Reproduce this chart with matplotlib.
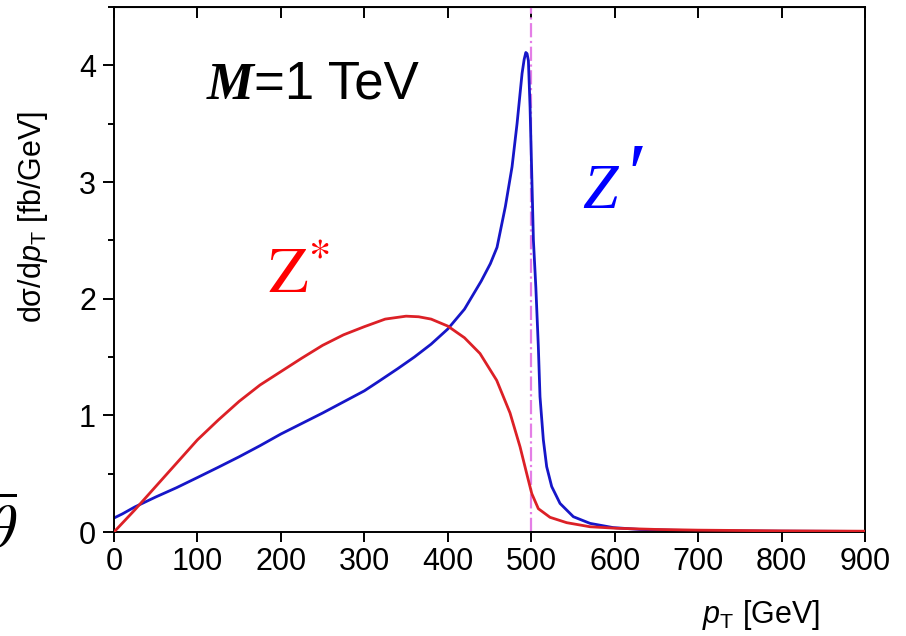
import numpy as np
import matplotlib
matplotlib.use("Agg")
import matplotlib.pyplot as plt
from matplotlib.ticker import MultipleLocator

plt.rcParams['font.family'] = ['Liberation Sans', 'DejaVu Sans']
plt.rcParams['mathtext.fontset'] = 'custom'
plt.rcParams['mathtext.rm'] = 'Liberation Sans'
plt.rcParams['mathtext.it'] = 'Liberation Sans:italic'

# Z' (blue)
pt_zp = [0, 10, 25, 50, 75, 100, 125, 150, 175, 200, 225, 250, 275, 300, 317, 340,
         360, 380, 400, 420, 440, 451, 459, 469, 477, 483, 489, 491.5, 493.5, 495,
         496.6, 498.6, 500.6, 502.6, 505.5, 508.5, 510.5, 514.5, 518.5, 524.5, 534.5,
         550.5, 570.5, 598, 630, 670, 720, 800, 900]
ds_zp = [0.12, 0.155, 0.215, 0.30, 0.38, 0.467, 0.555, 0.645, 0.74, 0.84, 0.93, 1.02,
         1.115, 1.21, 1.29, 1.40, 1.50, 1.61, 1.74, 1.91, 2.15, 2.30, 2.44, 2.79, 3.13,
         3.50, 3.93, 4.05, 4.11, 4.10, 4.04, 3.64, 3.07, 2.50, 2.10, 1.59, 1.16, 0.79,
         0.56, 0.39, 0.245, 0.131, 0.074, 0.038, 0.022, 0.015, 0.010, 0.007, 0.005]

# Z* (red)
pt_zs = [0, 25, 50, 75, 100, 125, 150, 175, 200, 225, 250, 275, 300, 325, 350, 365,
         380, 400, 420, 438.6, 458.6, 474.6, 486.6, 494.6, 500.6, 508.5, 522.5, 542.5,
         570.5, 602.5, 650, 700, 800, 900]
ds_zs = [0.0, 0.19, 0.39, 0.59, 0.79, 0.96, 1.12, 1.26, 1.375, 1.49, 1.60, 1.69, 1.76,
         1.825, 1.85, 1.845, 1.825, 1.765, 1.665, 1.53, 1.30, 1.02, 0.73, 0.50, 0.33,
         0.20, 0.126, 0.08, 0.045, 0.032, 0.022, 0.016, 0.010, 0.007]

half_mass = 500
xticks = list(range(0, 1000, 100))
yticks = [0, 1, 2, 3, 4]

fig = plt.figure(figsize=(9.06, 6.36), dpi=100)
ax = fig.add_axes([0.1258, 0.1635, 0.829, 0.8255])

ax.axvline(half_mass, color='#e47ee6', lw=1.6, ls='-.', zorder=1)
ax.plot(pt_zp, ds_zp, color='#1616c8', lw=2.0, zorder=2)
ax.plot(pt_zs, ds_zs, color='#dc2026', lw=2.0, zorder=3)

ax.set_xlim(0, 900)
ax.set_ylim(0, 4.5)
ax.set_xticks(xticks)
ax.set_yticks(yticks)
ax.yaxis.set_minor_locator(MultipleLocator(0.5))
ax.tick_params(axis='both', labelsize=22, width=1.4, colors='black')
ax.tick_params(axis='x', which='major', length=7, pad=4)
ax.tick_params(axis='y', which='major', length=8, pad=5)
ax.tick_params(axis='y', which='minor', length=4.5, width=1.4)
for s in ax.spines.values():
    s.set_linewidth(1.4)

top = ax.secondary_xaxis('top')
top.set_xticks(xticks)
top.tick_params(direction='in', length=8, width=1.4, labeltop=False)

ax.set_ylabel('dσ/d$\\mathit{p}_{\\mathrm{T}}$ [fb/GeV]', fontsize=22)
ax.yaxis.set_label_coords(-0.085, 0.60)
ax.set_xlabel(r'$\mathit{p}_{\mathrm{T}}$ [GeV]', fontsize=22, ha='right')
ax.xaxis.set_label_coords(0.94, -0.125)

mt = ax.text(0.124, 0.804, 'M', transform=ax.transAxes, fontsize=38,
             family='Liberation Serif', fontweight='bold', fontstyle='italic',
             va='bottom')
ax.annotate('=1 TeV', xy=(1, 0), xycoords=mt, fontsize=38, va='bottom',
            family='Liberation Sans')

ax.text(0.205, 0.455, r'$\mathrm{Z}^{*}$', transform=ax.transAxes, fontsize=46,
        color='#ff0000', math_fontfamily='stix', va='baseline')
zt = ax.text(0.623, 0.617, 'Z', transform=ax.transAxes, fontsize=46,
             color='#0000ff', family='Liberation Serif', fontstyle='italic',
             va='baseline')
ax.annotate('\u2032', xy=(1, 0), xycoords=zt, xytext=(4, 0),
            textcoords='offset points', fontsize=62, color='#0000ff',
            family=['Liberation Serif', 'DejaVu Serif'], fontstyle='italic',
            va='bottom')

fig.text(17 / 906, 88 / 636, r'$\overline{\theta}$', fontsize=44, ha='right',
         va='baseline', math_fontfamily='stix')

fig.savefig('out.png', dpi=100)
